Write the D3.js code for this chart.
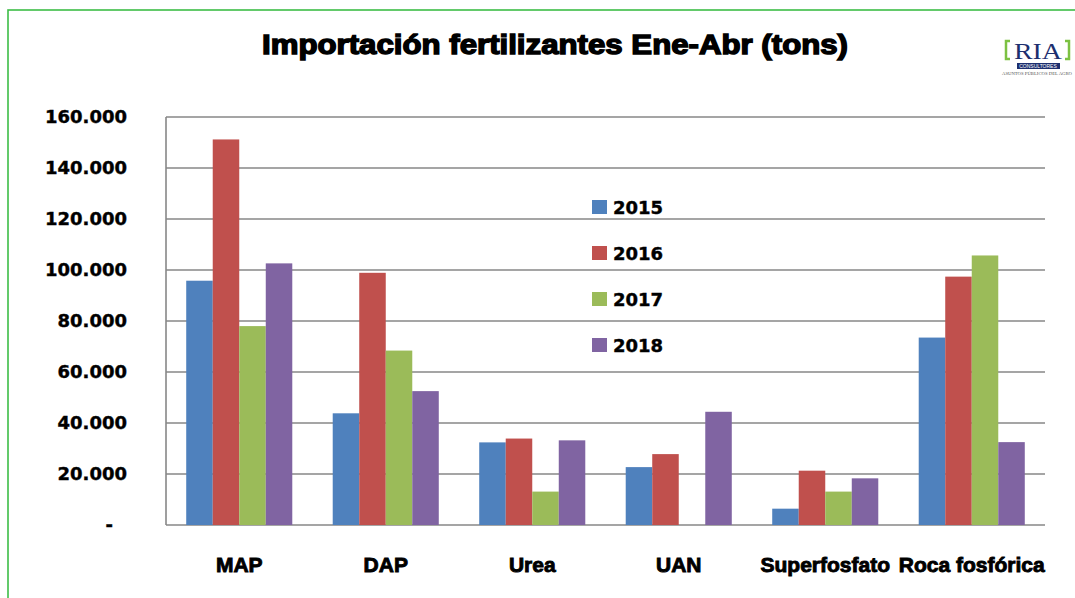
<!DOCTYPE html>
<html>
<head>
<meta charset="utf-8">
<script src="https://cdn.jsdelivr.net/npm/d3@7"></script>
<style>
  body { margin: 0; background: #fff; }
  svg { display: block; }
</style>
</head>
<body>
<svg id="chart" width="1075" height="598"></svg>
<script>
// data
var categories = ["MAP", "DAP", "Urea", "UAN", "Superfosfato", "Roca fosfórica"];
var years = ["2015", "2016", "2017", "2018"];
var v2015 = [95800, 43800, 32400, 22700, 6400, 73500];
var v2016 = [151200, 98900, 33900, 27800, 21300, 97400];
var v2017 = [78000, 68400, 13100, 0, 13100, 105700];
var v2018 = [102600, 52500, 33200, 44400, 18300, 32500];
var yTicks = [0, 20000, 40000, 60000, 80000, 100000, 120000, 140000, 160000];
var colors = ["#4f81bd", "#c0504d", "#9bbb59", "#8064a2"];

var series = [v2015, v2016, v2017, v2018];

var margin = { top: 117, right: 30, bottom: 73, left: 166 };
var width = 1075 - margin.left - margin.right,
    height = 598 - margin.top - margin.bottom;

var svg = d3.select("#chart");

// green frame
svg.append("rect")
  .attr("x", 8).attr("y", 10)
  .attr("width", 1100).attr("height", 700)
  .attr("fill", "none")
  .attr("stroke", "#3dbd47")
  .attr("stroke-width", 1.6);

// title
svg.append("text")
  .attr("x", 555).attr("y", 54)
  .attr("text-anchor", "middle")
  .attr("font-family", "Liberation Sans, Arial, sans-serif")
  .attr("font-weight", "bold")
  .attr("font-size", 27)
  .attr("stroke", "#000").attr("stroke-width", 1.4)
  .attr("textLength", 586)
  .attr("lengthAdjust", "spacingAndGlyphs")
  .text("Importación fertilizantes Ene-Abr (tons)");

var g = svg.append("g")
  .attr("transform", "translate(" + margin.left + "," + margin.top + ")");

var x0 = d3.scaleBand()
  .domain(categories)
  .range([0, width])
  .paddingInner(0.276)
  .paddingOuter(0.138);

var x1 = d3.scaleBand()
  .domain(years)
  .range([0, x0.bandwidth()]);

var y = d3.scaleLinear()
  .domain([0, 160000])
  .range([height, 0]);

// grid lines
g.selectAll(".grid")
  .data(yTicks)
  .enter().append("line")
  .attr("x1", 0).attr("x2", width)
  .attr("y1", function (d) { return y(d); })
  .attr("y2", function (d) { return y(d); })
  .attr("stroke", "#878787")
  .attr("stroke-width", 1.6);

// left axis line
g.append("line")
  .attr("x1", 0).attr("x2", 0)
  .attr("y1", 0).attr("y2", height)
  .attr("stroke", "#878787")
  .attr("stroke-width", 1.6);

// y tick labels
var fmt = d3.formatLocale({ decimal: ",", thousands: ".", grouping: [3], currency: ["", ""] }).format(",");
var yAxis = d3.axisLeft(y)
  .tickValues(yTicks)
  .tickSize(0)
  .tickPadding(39)
  .tickFormat(function (d) { return d === 0 ? "-" : fmt(d); });

var ya = g.append("g").call(yAxis);
ya.select(".domain").remove();
ya.selectAll("text")
  .attr("font-family", "DejaVu Sans, Verdana, sans-serif")
  .attr("font-weight", "bold")
  .attr("font-size", 18)
  .attr("fill", "#000")
  .attr("stroke", "#000").attr("stroke-width", 0.4)
  .attr("dx", function (d) { return d === 0 ? -14 : 0; });

// bars
var groups = g.selectAll(".cat")
  .data(categories)
  .enter().append("g")
  .attr("transform", function (d) { return "translate(" + x0(d) + ",0)"; });

groups.selectAll("rect")
  .data(function (d, i) {
    return years.map(function (yr, j) { return { year: yr, value: series[j][i], idx: j }; });
  })
  .enter().append("rect")
  .filter(function (d) { return d.value > 0; })
  .attr("x", function (d) { return x1(d.year); })
  .attr("y", function (d) { return y(d.value); })
  .attr("width", x1.bandwidth())
  .attr("height", function (d) { return height - y(d.value); })
  .attr("fill", function (d) { return colors[d.idx]; });

// x labels
var xAxis = d3.axisBottom(x0).tickSize(0).tickPadding(32);
var xa = g.append("g")
  .attr("transform", "translate(0," + height + ")")
  .call(xAxis);
xa.select(".domain").remove();
xa.selectAll("text")
  .attr("font-family", "Liberation Sans, Arial, sans-serif")
  .attr("font-weight", "bold")
  .attr("font-size", 21)
  .attr("fill", "#000")
  .attr("stroke", "#000").attr("stroke-width", 0.9);

// legend
var legend = svg.append("g")
  .attr("transform", "translate(592,207)");

var li = legend.selectAll("g")
  .data(years)
  .enter().append("g")
  .attr("transform", function (d, i) { return "translate(0," + (i * 46) + ")"; });

li.append("rect")
  .attr("x", 0).attr("y", -7)
  .attr("width", 15).attr("height", 14)
  .attr("fill", function (d, i) { return colors[i]; });

li.append("text")
  .attr("x", 21).attr("y", 7)
  .attr("font-family", "DejaVu Sans, Verdana, sans-serif")
  .attr("font-weight", "bold")
  .attr("font-size", 18)
  .attr("stroke", "#000").attr("stroke-width", 0.4)
  .text(function (d) { return d; });

// logo
var logo = svg.append("g");
logo.append("path")
  .attr("d", "M1010,41 H1006 V59 H1010")
  .attr("fill", "none").attr("stroke", "#7cc142").attr("stroke-width", 2.5);
logo.append("path")
  .attr("d", "M1065,41 H1069 V59 H1065")
  .attr("fill", "none").attr("stroke", "#7cc142").attr("stroke-width", 2.5);
logo.append("text")
  .attr("x", 1038).attr("y", 59)
  .attr("text-anchor", "middle")
  .attr("font-family", "Liberation Serif, Times New Roman, serif")
  .attr("font-size", 24)
  .attr("fill", "#1d2f6f")
  .attr("textLength", 48)
  .attr("lengthAdjust", "spacingAndGlyphs")
  .text("RIA");
logo.append("rect")
  .attr("x", 1017).attr("y", 63)
  .attr("width", 43).attr("height", 6)
  .attr("fill", "#1d2f6f");
logo.append("text")
  .attr("x", 1038).attr("y", 68)
  .attr("text-anchor", "middle")
  .attr("font-family", "Liberation Sans, Arial, sans-serif")
  .attr("font-size", 5)
  .attr("fill", "#fff")
  .text("CONSULTORES");
logo.append("text")
  .attr("x", 1037).attr("y", 75)
  .attr("text-anchor", "middle")
  .attr("font-family", "Liberation Serif, serif")
  .attr("font-size", 4.5)
  .attr("fill", "#555")
  .attr("textLength", 70)
  .attr("lengthAdjust", "spacingAndGlyphs")
  .text("ASUNTOS PÚBLICOS DEL AGRO");
</script>
</body>
</html>
